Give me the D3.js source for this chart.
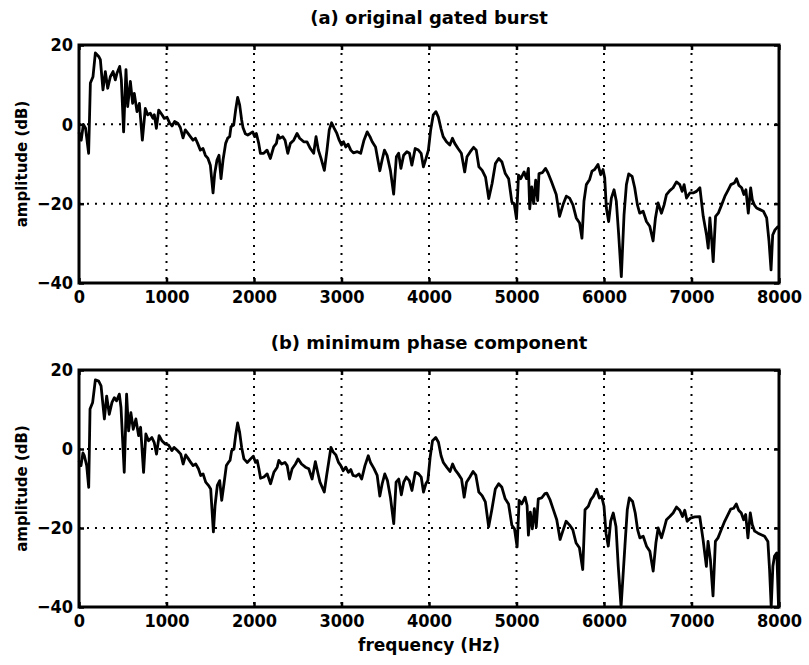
<!DOCTYPE html>
<html>
<head>
<meta charset="utf-8">
<script src="https://cdn.jsdelivr.net/npm/d3@7"></script>
<style>
  body { margin: 0; background: #fff; }
  svg text { font-family: "DejaVu Sans", sans-serif; font-weight: bold; fill: #000; }
  .tick text { font-family: "Liberation Sans Narrow", "DejaVu Sans Condensed", sans-serif; font-size: 18px; }
</style>
</head>
<body>
<div id="chart"></div>
<script>
// tick values of both panels
const xTicks = [0, 1000, 2000, 3000, 4000, 5000, 6000, 7000, 8000];
const yTicks = [-40, -20, 0, 20];

// (a) original gated burst : frequency (Hz) / amplitude (dB)
const freqA = [0,25,50,75,110,130,160,187,225,244,274,301,328,358,389,415,434,465,484,510,537,556,587,613,632,663,690,724,758,785,815,846,861,884,911,949,975,1006,1036,1063,1093,1128,1158,1189,1215,1246,1273,1303,1330,1356,1387,1417,1444,1474,1501,1532,1551,1577,1600,1623,1646,1676,1699,1722,1737,1768,1790,1813,1836,1859,1874,1901,1928,1958,1985,2008,2027,2054,2073,2111,2149,2187,2225,2256,2275,2294,2329,2355,2386,2416,2454,2492,2522,2568,2606,2644,2682,2709,2736,2766,2804,2834,2860,2887,2917,2947,2974,3000,3023,3049,3075,3106,3136,3181,3219,3257,3294,3325,3351,3389,3438,3464,3491,3521,3559,3596,3627,3653,3679,3710,3747,3777,3804,3842,3879,3910,3936,3966,3993,4019,4049,4079,4106,4136,4162,4200,4238,4268,4294,4332,4370,4408,4434,4472,4510,4540,4570,4608,4646,4683,4721,4759,4797,4834,4872,4910,4947,4974,5000,5023,5049,5087,5113,5136,5151,5174,5196,5219,5242,5257,5295,5332,5359,5397,5454,5492,5531,5569,5607,5645,5683,5721,5748,5771,5798,5836,5863,5893,5931,5962,5989,6008,6027,6053,6084,6115,6141,6168,6198,6229,6256,6282,6321,6351,6382,6408,6447,6485,6523,6561,6588,6618,6657,6687,6714,6752,6790,6828,6866,6893,6916,6943,6981,7019,7057,7096,7134,7172,7191,7210,7229,7248,7275,7306,7344,7382,7420,7450,7489,7515,7542,7573,7599,7622,7649,7676,7695,7718,7744,7783,7821,7859,7886,7909,7928,7954,7992];
const dbA = [-2,-4,0,-1,-7.3,10.4,12,18,17.1,16.3,8.7,13.3,9.1,12,13.3,11.2,12.9,14.6,11.2,-1.9,13.8,4.5,10.8,5.3,7.8,3.2,5.3,-4,4,2.4,2.8,1.5,2.4,-1,3.6,2.4,1.5,1.8,0.3,-0.4,0.7,0.3,-0.8,-3.4,-1.4,-2.3,-3.1,-4,-3.5,-4.8,-6.5,-6.1,-7.8,-8.6,-10.3,-17.3,-12.4,-9,-7.8,-13.7,-9,-4.8,-3.5,-3.1,-0.6,-0.2,3.6,6.8,4.9,1.1,-0.8,-2.4,-2.7,-2.3,-1.9,-3.1,-2.3,-4.8,-7.3,-7.3,-6.5,-8.6,-5.7,-4.8,-2.7,-3.5,-3.1,-4,-7.3,-4.8,-4,-2.3,-3.5,-4.4,-4.4,-6.1,-7.3,-3.1,-6.5,-8.6,-11.6,-6.5,-1.4,0.4,-1,-2.3,-4,-5.2,-4.4,-5.7,-5,-6.5,-7.2,-6.9,-7.3,-4,-1.9,-3.1,-4.4,-5.7,-11.7,-9,-6.5,-7.8,-11.6,-17.6,-8.2,-7.3,-11.1,-7.8,-6.9,-7.3,-10.3,-6.1,-6.5,-7.3,-10.7,-8.6,-6.5,-1.4,2.4,3.2,1.9,-1,-3.1,-4.4,-5.2,-3.5,-4.8,-6.1,-7.3,-12,-8.2,-6.9,-5.8,-6.5,-10.7,-11.6,-13.3,-18.7,-14.9,-9.9,-8.6,-9.5,-12.4,-13.7,-19.6,-20,-23.8,-12.8,-13.7,-12,-13.7,-11.1,-21.3,-15.8,-20,-14.1,-19.2,-12.4,-12.2,-11.1,-12.2,-14.3,-17.7,-23.2,-20.3,-18.1,-18.6,-20.3,-23.6,-24.9,-28.7,-19.4,-15.2,-13.9,-11.8,-11.4,-10.1,-12.7,-11.4,-13.5,-21.1,-24.5,-18.6,-16.5,-19.4,-27.9,-38.4,-22.8,-15.2,-12.5,-13.1,-16,-20.3,-22.4,-21.9,-24.5,-25.7,-29.4,-23.6,-19.8,-22.4,-20.3,-17.7,-16.7,-16,-14.5,-15.2,-16.9,-15.2,-18.6,-17.3,-17.3,-16.9,-16,-23.2,-27.9,-31.2,-23.6,-28.7,-34.6,-23.2,-22.4,-20.3,-18.1,-16.5,-15.2,-14.8,-13.7,-15.4,-16,-17.7,-16.5,-22.4,-16,-19,-20.3,-21.1,-21.5,-21.9,-23.6,-29.5,-36.7,-27.9,-26.6,-25.7];

// (b) minimum phase component : frequency (Hz) / amplitude (dB)
const freqB = [0,23,45,61,88,111,126,156,187,225,252,290,316,346,377,404,430,461,480,517,544,567,593,620,650,681,704,738,764,795,833,859,886,916,947,985,1023,1061,1087,1125,1163,1190,1220,1251,1277,1304,1334,1365,1391,1418,1448,1479,1505,1536,1555,1581,1608,1631,1657,1684,1707,1726,1745,1771,1790,1813,1836,1859,1885,1923,1961,1992,2018,2037,2056,2075,2113,2151,2189,2227,2265,2284,2315,2353,2379,2406,2436,2474,2504,2543,2588,2626,2664,2701,2728,2754,2803,2830,2853,2879,2906,2936,2966,2992,3019,3049,3079,3106,3132,3163,3200,3231,3268,3306,3333,3370,3408,3438,3465,3495,3525,3559,3597,3624,3654,3684,3711,3741,3775,3805,3843,3881,3911,3937,3964,3987,4013,4040,4077,4108,4138,4164,4202,4240,4270,4297,4334,4372,4402,4429,4467,4504,4535,4569,4607,4644,4682,4720,4758,4796,4833,4871,4909,4947,4977,5007,5030,5060,5098,5121,5136,5158,5181,5204,5226,5249,5287,5325,5346,5384,5422,5460,5498,5529,5567,5605,5643,5681,5719,5757,5783,5821,5848,5878,5916,5947,5973,6000,6023,6049,6076,6106,6137,6163,6195,6239,6266,6289,6327,6357,6384,6410,6448,6486,6524,6562,6593,6619,6657,6684,6714,6752,6790,6828,6866,6897,6923,6950,6988,7037,7094,7132,7170,7189,7216,7246,7273,7303,7341,7379,7417,7448,7482,7512,7539,7569,7596,7619,7645,7672,7695,7722,7760,7797,7835,7873,7892,7911,7930,7949,7975,7995];
const dbB = [-3,-4.2,-1,-1.7,-4.2,-9.7,10.1,11.8,17.5,17.2,16,7.6,13.4,8.8,11.8,13,12.2,13.9,10.5,-5.9,13.9,4.6,9.2,5,7.6,3.4,5.5,-5.9,3.8,2.1,2.9,1.7,-1.3,3.4,2.1,1.3,1,-0.4,0.4,-0.4,-1.3,-3.8,-1.5,-2.5,-3.4,-4.2,-3.8,-5,-6.7,-6.3,-8.4,-9.2,-10.1,-21,-14.3,-9.2,-8,-13,-8.8,-4.2,-3.4,-2.9,-0.4,0,3.4,6.6,4.2,0.4,-2.5,-3.4,-2.5,-1.8,-3.4,-2.9,-5,-7.4,-7.1,-6.3,-8.8,-5.9,-4.6,-2.9,-3.8,-3.4,-4.2,-7.6,-5,-3.8,-2.5,-3.8,-4.6,-5,-7.6,-3.2,-5.9,-8.4,-10.9,-6.7,-3.4,0.4,-0.8,-1.5,-3.4,-4.2,-5.5,-4.6,-5.9,-5.2,-6.7,-6.9,-6.3,-7.6,-4.2,-1.7,-3.5,-4.9,-6.7,-11.9,-8.8,-6.3,-8,-12.2,-18.9,-8.4,-7.6,-11.6,-8.4,-7.1,-8,-10.5,-5.9,-6.3,-7.1,-10.9,-8.8,-8,-2.1,2.1,2.9,1.7,-1.7,-3.4,-4.6,-5.7,-3.8,-5.2,-6.3,-7.6,-12.2,-8.4,-7.1,-5.7,-6.6,-10.9,-11.8,-13.4,-19.7,-15.1,-10.1,-8.8,-9.7,-12.6,-13.9,-19.3,-20.2,-24.8,-13,-13.9,-12.2,-14.3,-21.8,-16,-20.2,-15.1,-19.7,-12.6,-12.4,-11.3,-11.2,-12.9,-15.4,-17.9,-22.9,-20.8,-18.3,-19.2,-20.4,-23.8,-25,-30.5,-15.4,-14.5,-12.9,-12,-10.2,-12.4,-12,-14.5,-21.3,-24.6,-18.3,-16.2,-19.6,-29.7,-40,-24.6,-15.4,-12.4,-13.3,-16.2,-20.4,-22.5,-22.1,-24.6,-25.9,-30.9,-23.8,-20,-22.5,-20.4,-17.9,-17.1,-16.2,-14.7,-15.5,-17.1,-15.5,-18.3,-17.5,-17.2,-17.1,-22.9,-29.7,-23.4,-28,-37.2,-23.4,-22.5,-20.4,-18.3,-16.6,-15.2,-15,-13.9,-15.5,-16.2,-17.9,-16.6,-22.5,-16.2,-19.2,-20.8,-21.3,-21.7,-22.1,-23.4,-30.5,-40,-29.7,-27.1,-26.3,-40];

const width = 809, height = 665;
const left = 79, right = 779;

const panels = [
  { title: "(a) original gated burst", freq: freqA, db: dbA, top: 45, bottom: 283 },
  { title: "(b) minimum phase component", freq: freqB, db: dbB, top: 370, bottom: 607 }
];

const svg = d3.select("#chart").append("svg")
  .attr("width", width)
  .attr("height", height);

const x = d3.scaleLinear().domain([0, 8000]).range([left, right]);
const fmt = d => d < 0 ? "\u2212" + Math.abs(d) : String(d);

panels.forEach((p, k) => {
  const y = d3.scaleLinear().domain([-40, 20]).range([p.bottom, p.top]);
  const g = svg.append("g");

  // dotted grid
  g.selectAll("line.gx")
    .data(xTicks.slice(1, -1))
    .enter().append("line")
      .attr("x1", d => x(d)).attr("x2", d => x(d))
      .attr("y1", p.top).attr("y2", p.bottom)
      .attr("stroke", "#000").attr("stroke-width", 2)
      .attr("stroke-dasharray", "2,6");
  g.selectAll("line.gy")
    .data(yTicks.slice(1, -1))
    .enter().append("line")
      .attr("x1", left).attr("x2", right)
      .attr("y1", d => y(d)).attr("y2", d => y(d))
      .attr("stroke", "#000").attr("stroke-width", 2)
      .attr("stroke-dasharray", "2,6");

  // axes, ticks pointing inward
  const axB = g.append("g").attr("transform", `translate(0,${p.bottom})`)
    .call(d3.axisBottom(x).tickValues(xTicks).tickSize(-5).tickPadding(7).tickFormat(fmt));
  const axT = g.append("g").attr("transform", `translate(0,${p.top})`)
    .call(d3.axisTop(x).tickValues(xTicks).tickSize(-5).tickFormat(""));
  const axL = g.append("g").attr("transform", `translate(${left},0)`)
    .call(d3.axisLeft(y).tickValues(yTicks).tickSize(-5).tickPadding(6).tickFormat(fmt));
  const axR = g.append("g").attr("transform", `translate(${right},0)`)
    .call(d3.axisRight(y).tickValues(yTicks).tickSize(-5).tickFormat(""));
  [axB, axT, axL, axR].forEach(a => {
    a.select(".domain").remove();
    a.selectAll(".tick line").attr("stroke", "#000").attr("stroke-width", 2.5);
    a.selectAll(".tick text").attr("fill", "#000");
  });

  // spectrum curve
  const line = d3.line()
    .x((d, i) => x(p.freq[i]))
    .y(d => y(d));
  g.append("path")
    .datum(p.db)
    .attr("d", line)
    .attr("fill", "none")
    .attr("stroke", "#000")
    .attr("stroke-width", 2.8)
    .attr("stroke-linejoin", "round");

  // box
  g.append("rect")
    .attr("x", left).attr("y", p.top)
    .attr("width", right - left).attr("height", p.bottom - p.top)
    .attr("fill", "none").attr("stroke", "#000").attr("stroke-width", 3);

  g.append("text")
    .attr("x", (left + right) / 2)
    .attr("y", p.top - 21)
    .attr("text-anchor", "middle")
    .style("font-size", "18px")
    .text(p.title);

  g.append("text")
    .attr("transform", `translate(27,${(p.top + p.bottom) / 2}) rotate(-90)`)
    .attr("text-anchor", "middle")
    .style("font-size", "15px")
    .text("amplitude (dB)");
});

svg.append("text")
  .attr("x", (left + right) / 2)
  .attr("y", 651)
  .attr("text-anchor", "middle")
  .style("font-size", "17px")
  .text("frequency (Hz)");
</script>
</body>
</html>
